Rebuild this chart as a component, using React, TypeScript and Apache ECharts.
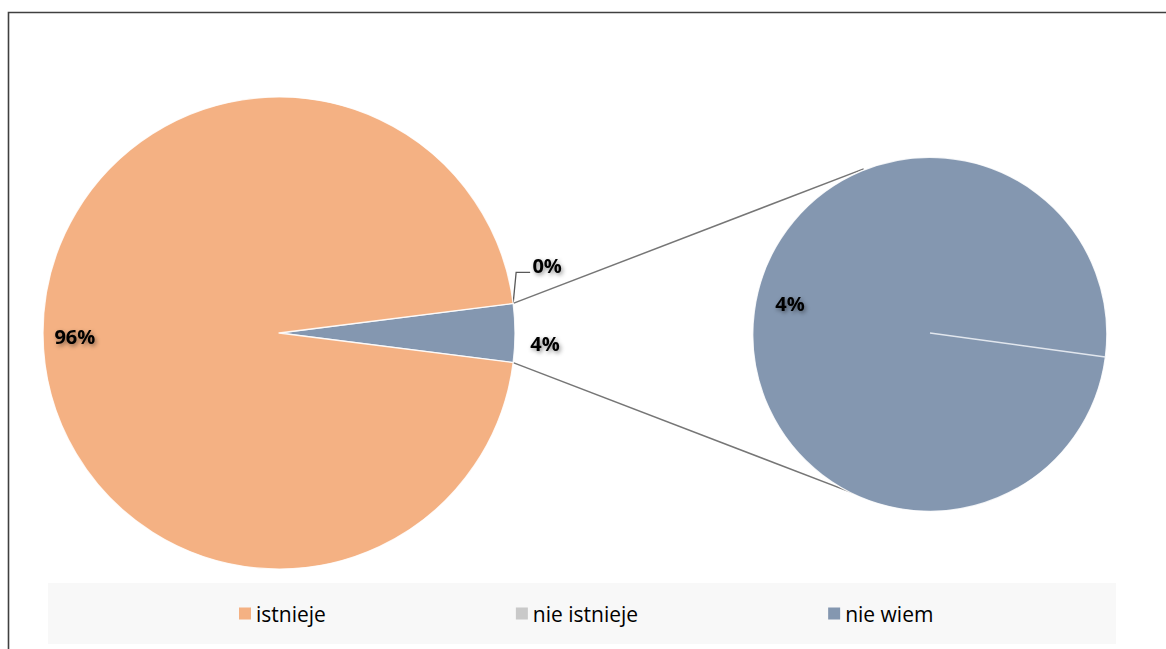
import React, { useEffect, useRef } from 'react';
import * as echarts from 'echarts';

// Answer categories and their shares (%)
const categories = ['istnieje', 'nie istnieje', 'nie wiem'];
const shares = [96, 0, 4];
const sliceColors = ['#F4B183', '#C9C9C9', '#8497B0'];
// Categories broken out into the secondary pie
const splitIndices = [1, 2];
const restIndices = [0];

const W = 1166;
const H = 649;
const MAIN = { cx: 279, cy: 333, r: 236 };
const SUB = { cx: 930, cy: 333, r: 177 };
const SUB_START = -7.8;
const CONNECT_ANGLE = 112;

const total = shares.reduce((a, b) => a + b, 0);
const pct = (v: number) => Math.round((v / total) * 100) + '%';
const otherValue = splitIndices.reduce((s, i) => s + shares[i], 0);
const otherAngle = (otherValue / total) * 360;
const mainStart = otherAngle / 2;

function polar(c: { cx: number; cy: number; r: number }, deg: number, k = 1) {
  const a = (deg * Math.PI) / 180;
  return [c.cx + c.r * k * Math.cos(a), c.cy - c.r * k * Math.sin(a)];
}

// mid angles of slices laid out clockwise from a start angle
function midAngles(values: number[], start: number, sum: number) {
  let a = start;
  return values.map((v) => {
    const span = (v / sum) * 360;
    const mid = a - span / 2;
    a -= span;
    return mid;
  });
}

const mainOrder = [...splitIndices, ...restIndices];
const mainMids = midAngles(mainOrder.map((i) => shares[i]), mainStart, total);
const subMids = midAngles(splitIndices.map((i) => shares[i]), SUB_START, otherValue || 1);

const labelFont = {
  fontFamily: 'Open Sans',
  fontWeight: 'bold' as const,
  fontSize: 20,
  color: '#000',
  textShadowColor: 'rgba(0,0,0,0.45)',
  textShadowBlur: 4,
  textShadowOffsetX: 1.5,
  textShadowOffsetY: 2,
};

export default function App() {
  const ref = useRef<HTMLDivElement>(null);

  useEffect(() => {
    document.body.style.margin = '0';
    if (!ref.current) return;
    const chart = echarts.init(ref.current, undefined, { renderer: 'svg' });

    const upperA = polar(MAIN, mainStart);
    const lowerA = polar(MAIN, -mainStart);
    const upperB = polar(SUB, CONNECT_ANGLE);
    const lowerB = polar(SUB, -CONNECT_ANGLE);
    // boundary of the zero-width slice in the secondary pie
    const subEdge = polar(SUB, SUB_START);

    const mainData = mainOrder.map((i) => ({
      name: categories[i],
      value: shares[i],
      itemStyle: { color: sliceColors[i] },
      label: { show: true, position: i === 0 ? 'inside' : 'outside' },
      labelLine: { show: shares[i] === 0, lineStyle: { color: '#595959', width: 1.3 } },
    }));

    const subData = splitIndices.map((i) => ({
      name: categories[i],
      value: shares[i],
      itemStyle: { color: sliceColors[i] },
      label: { show: shares[i] > 0 },
    }));

    chart.setOption({
      animation: false,
      backgroundColor: '#fff',
      graphic: [
        {
          type: 'rect',
          silent: true,
          z: 0,
          shape: { x: 48, y: 583, width: 1068, height: 61 },
          style: { fill: '#F8F8F8' },
        },
        {
          type: 'rect',
          silent: true,
          z: 10,
          shape: { x: 8.5, y: 12.5, width: 1400, height: 800 },
          style: { fill: 'none', stroke: '#404040', lineWidth: 1.6 },
        },
        {
          type: 'line',
          silent: true,
          z: 1,
          shape: { x1: upperA[0], y1: upperA[1], x2: upperB[0], y2: upperB[1] },
          style: { stroke: '#767676', lineWidth: 1.5 },
        },
        {
          type: 'line',
          silent: true,
          z: 1,
          shape: { x1: lowerA[0], y1: lowerA[1], x2: lowerB[0], y2: lowerB[1] },
          style: { stroke: '#767676', lineWidth: 1.5 },
        },
        {
          type: 'line',
          silent: true,
          z: 5,
          shape: { x1: SUB.cx, y1: SUB.cy, x2: subEdge[0], y2: subEdge[1] },
          style: { stroke: 'rgba(235,238,244,0.9)', lineWidth: 1.5 },
        },
      ],
      legend: {
        data: categories,
        left: 234,
        top: 598,
        icon: 'rect',
        itemWidth: 12,
        itemHeight: 12,
        itemGap: 190,
        selectedMode: false,
        itemStyle: { borderWidth: 0 },
        textStyle: { fontFamily: 'Open Sans', fontSize: 21, color: '#000' },
      },
      series: [
        {
          type: 'pie',
          center: [MAIN.cx, MAIN.cy],
          radius: MAIN.r,
          startAngle: mainStart,
          clockwise: true,
          minAngle: 0,
          avoidLabelOverlap: false,
          itemStyle: { borderColor: 'rgba(255,255,255,0.85)', borderWidth: 1.3 },
          label: { ...labelFont, formatter: (p: any) => pct(p.value) },
          emphasis: { disabled: true },
          data: mainData,
          labelLayout: (p: any) => {
            const idx = mainOrder[p.dataIndex];
            const mid = mainMids[p.dataIndex];
            if (shares[idx] === 0) {
              const e = polar(MAIN, mid);
              return {
                x: e[0] + 34,
                y: e[1] - 38,
                align: 'center',
                verticalAlign: 'middle',
                labelLinePoints: [
                  [e[0], e[1]],
                  [e[0] + 3, e[1] - 31],
                  [e[0] + 17, e[1] - 31],
                ],
              };
            }
            if (idx === 0) {
              const q = polar(MAIN, mid, 0.865);
              return { x: q[0], y: q[1] + 3, align: 'center', verticalAlign: 'middle' };
            }
            const q = polar(MAIN, mid, 1.127);
            return { x: q[0], y: q[1] + 10, align: 'center', verticalAlign: 'middle' };
          },
        },
        {
          type: 'pie',
          center: [SUB.cx, SUB.cy],
          radius: SUB.r,
          startAngle: SUB_START,
          clockwise: true,
          minAngle: 0,
          avoidLabelOverlap: false,
          itemStyle: { borderColor: 'rgba(255,255,255,0.85)', borderWidth: 1.3 },
          label: { ...labelFont, position: 'inside', formatter: (p: any) => pct(p.value) },
          labelLine: { show: false },
          emphasis: { disabled: true },
          data: subData,
          labelLayout: (p: any) => {
            const mid = subMids[p.dataIndex];
            const q = polar(SUB, mid, 0.81);
            return { x: q[0] + 2, y: q[1] - 10, align: 'center', verticalAlign: 'middle' };
          },
        },
      ],
    });

    return () => chart.dispose();
  }, []);

  return <div ref={ref} style={{ width: W, height: H }} />;
}
